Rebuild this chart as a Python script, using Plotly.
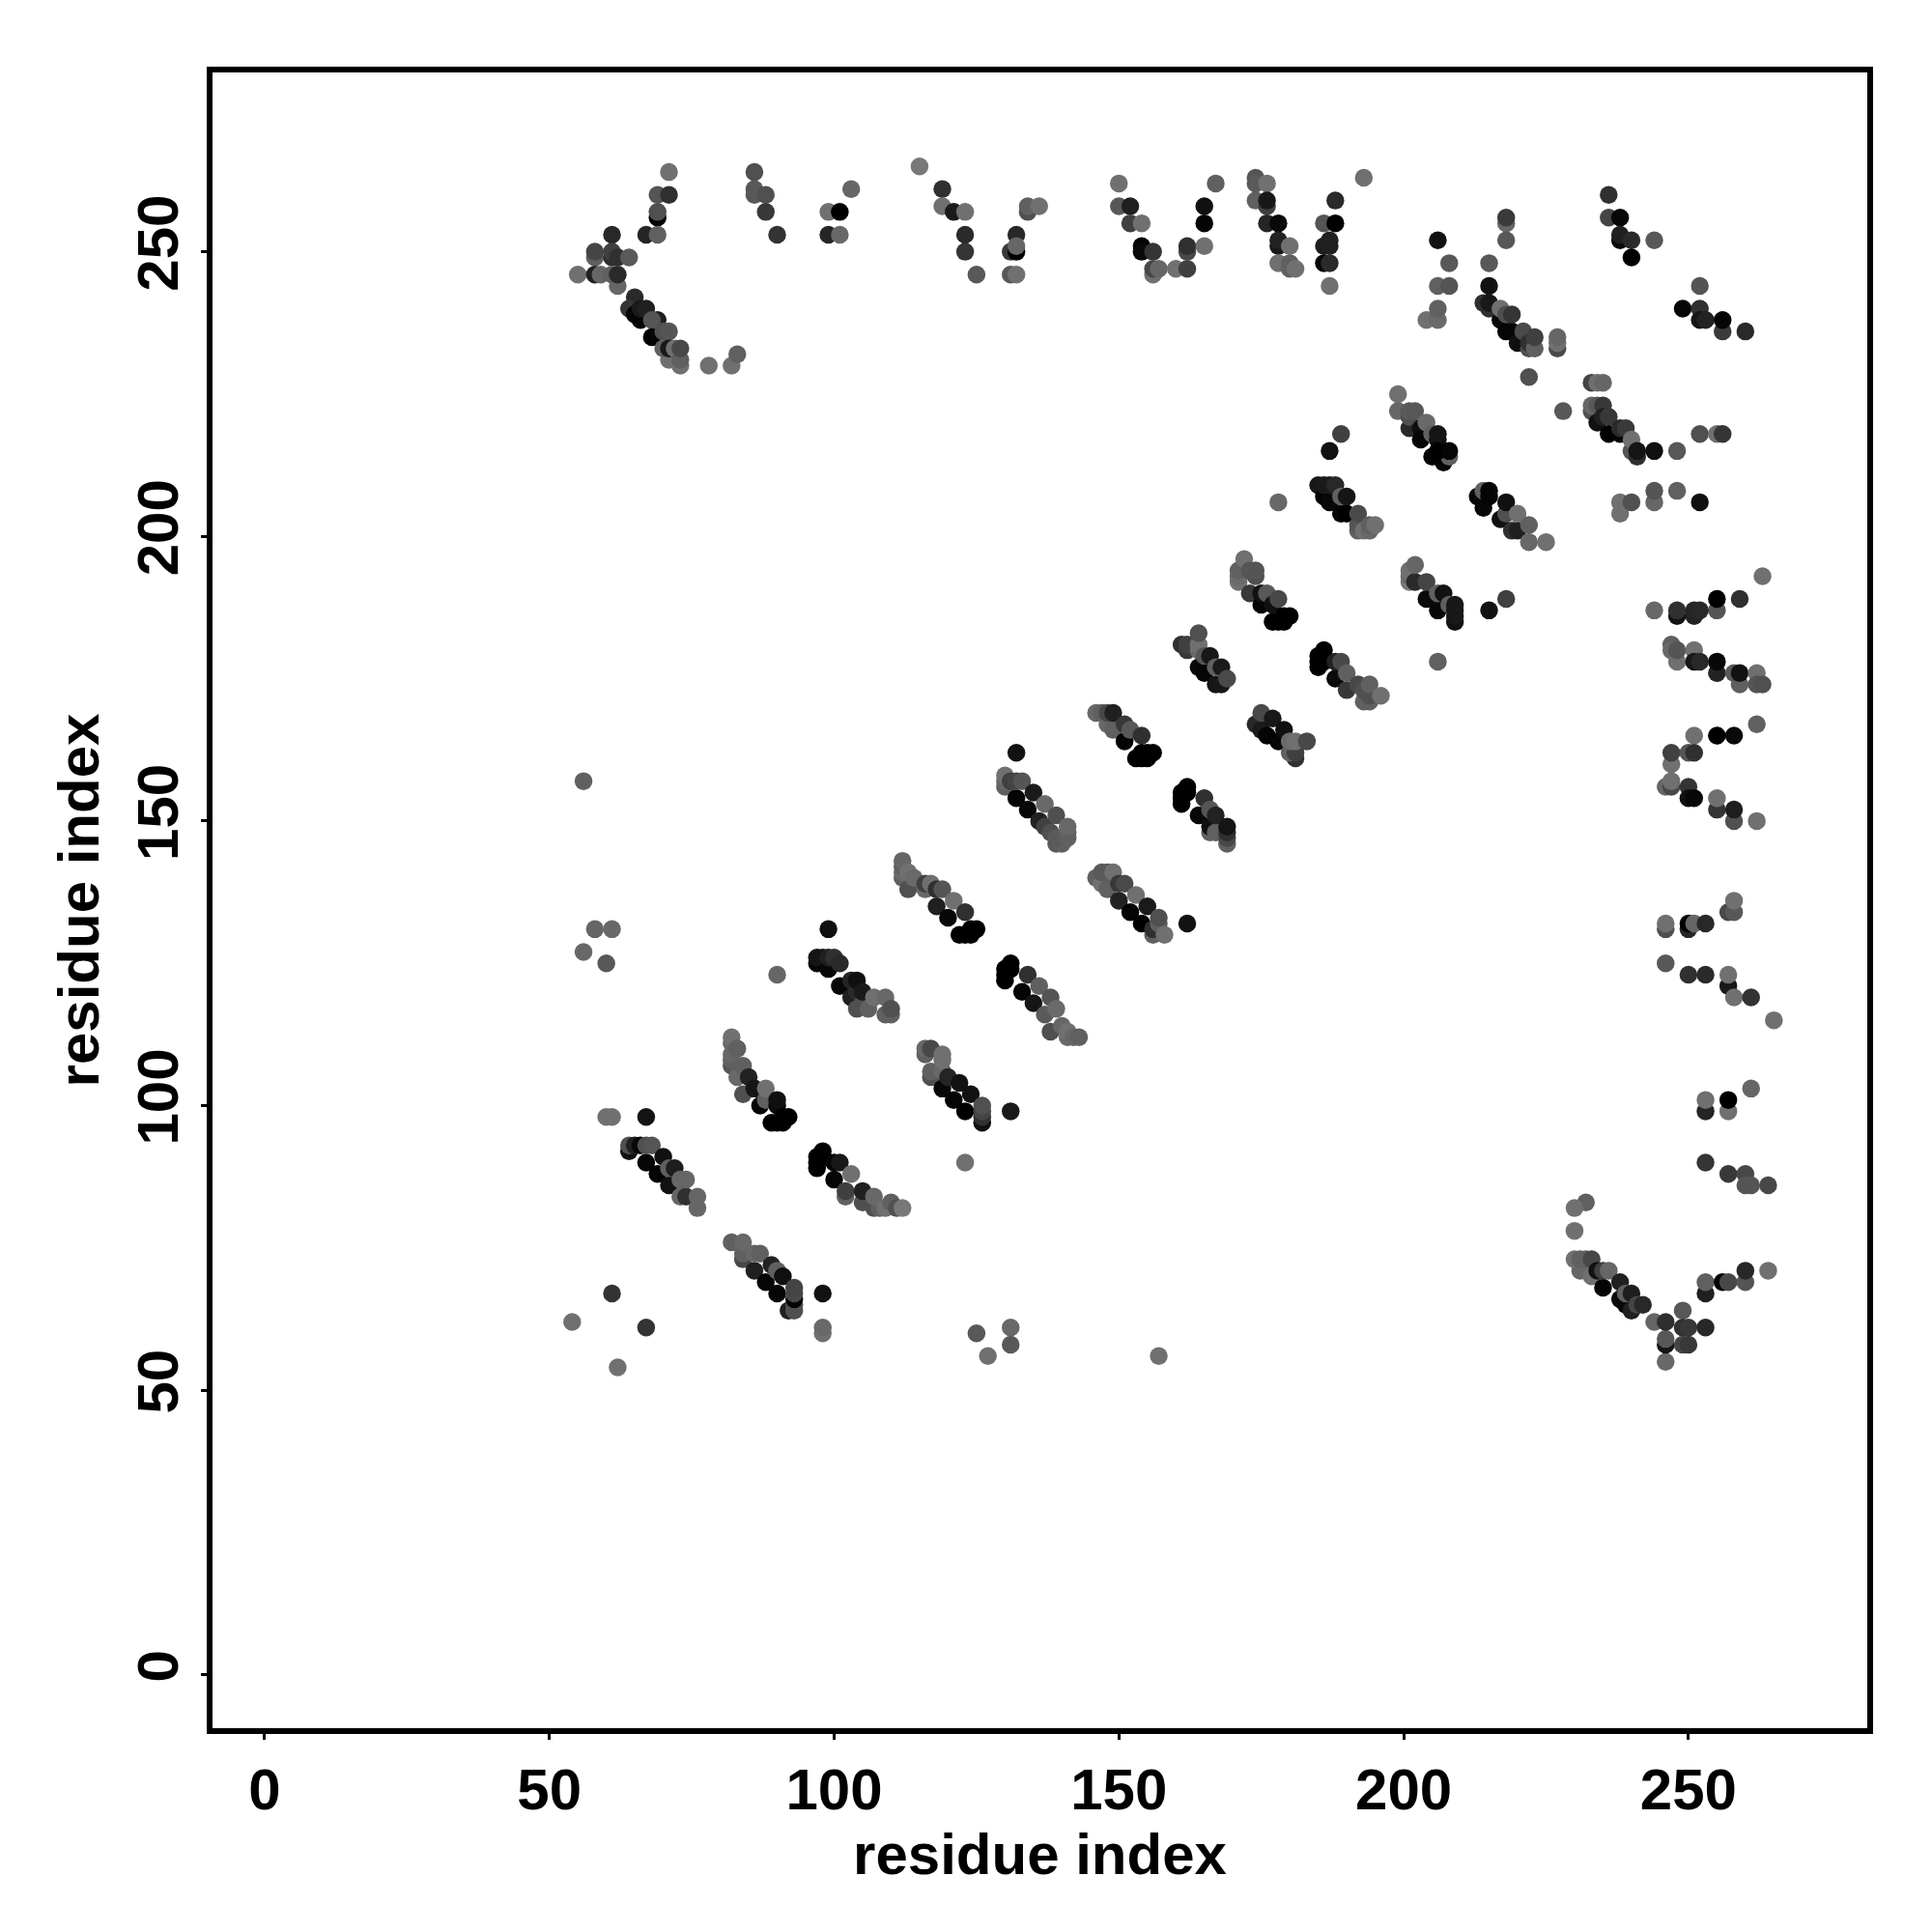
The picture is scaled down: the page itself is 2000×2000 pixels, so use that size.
import plotly.graph_objects as go

# each contact: (residue i, residue j, grey level)
top_left = [(71,264,0x70),(69,260,0x55),(71,260,0x30),(69,256,0x05),(69,257,0x50),(67,253,0x25),(69,253,0x60),
 (61,253,0x28),(58,249,0x60),(58,250,0x45),(61,249,0x30),(61,250,0x40),(62,249,0x30),(64,249,0x5a),
 (55,246,0x70),(58,246,0x20),(59,246,0x66),(62,244,0x66),(61,246,0x60),(62,246,0x2a)]
diag_230 = [(65,242,0x2a),(64,240,0x35),(65,239,0x05),(66,238,0x05),(66,240,0x1a),(67,240,0x20),(69,238,0x1e),(68,238,0x55),
 (68,235,0x00),(69,235,0x05),(70,236,0x50),(71,236,0x55),(73,230,0x70),(71,231,0x70),(70,233,0x60),(71,233,0x18),
 (72,233,0x70),(73,231,0x60),(73,233,0x48),(78,230,0x70),(82,230,0x70),(83,232,0x60)]
top_mid = [(86,264,0x50),(86,261,0x58),(86,260,0x58),(88,260,0x50),(88,257,0x38),(90,253,0x33),
 (99,257,0x70),(101,257,0x00),(99,253,0x25),(101,253,0x68),(103,261,0x66),(115,265,0x78),
 (119,261,0x30),(119,258,0x70),(121,257,0x1a),(123,257,0x70),(123,253,0x2a),(123,250,0x35),(125,246,0x58),
 (132,253,0x28),(131,250,0x3a),(132,250,0x00),(132,251,0x66),(131,246,0x58),(132,246,0x70),
 (134,257,0x50),(134,258,0x60),(136,258,0x70)]
top_v = [(150,262,0x70),(150,258,0x58),(152,258,0x20),(152,255,0x40),(154,255,0x70),(154,251,0x05),(154,250,0x0a),(156,250,0x35),
 (156,246,0x70),(156,247,0x48),(157,247,0x66),(160,247,0x70),(162,247,0x40),(162,250,0x48),(162,251,0x30),
 (165,258,0x10),(165,255,0x05),(165,251,0x70),(167,262,0x60),
 (174,263,0x55),(174,262,0x5a),(176,262,0x70),(174,259,0x60),(176,258,0x40),(176,259,0x18),
 (176,255,0x25),(178,255,0x0a),(178,251,0x18),(178,252,0x22),(180,251,0x70),(178,248,0x70),(180,247,0x60),(180,248,0x60),(181,247,0x70),
 (186,255,0x55),(188,255,0x00),(188,259,0x2a),(193,263,0x70),
 (186,251,0x1e),(187,252,0x20),(187,251,0x20),(186,248,0x05),(187,248,0x2a),(187,244,0x70)]
top_right = [(206,252,0x12),(208,248,0x58),(206,244,0x60),(208,244,0x55),(204,238,0x70),(206,238,0x6a),(206,240,0x60),
 (215,248,0x58),(215,244,0x12),(218,255,0x66),(218,256,0x3a),(218,252,0x58),
 (236,260,0x30),(236,256,0x45),(238,256,0x08),(238,252,0x0a),(238,253,0x20),(240,252,0x2a),(240,249,0x00),(244,252,0x58),
 (249,240,0x05),(252,244,0x55),(252,240,0x30),(252,238,0x15),(253,238,0x22),(256,236,0x3a),(256,238,0x05),(260,236,0x2a)]
diag_235 = [(214,241,0x30),(215,240,0x30),(215,241,0x18),(217,238,0x0a),(217,240,0x70),(218,236,0x05),(219,236,0x05),
 (218,239,0x50),(219,239,0x35),(220,234,0x10),(221,236,0x4a),(222,233,0x50),(222,234,0x30),(223,233,0x60),(223,235,0x40),
 (227,233,0x4a),(227,234,0x70),(227,235,0x66),(222,228,0x50),(228,222,0x58),
 (233,227,0x45),(234,227,0x70),(235,227,0x66)]
diag_220 = [(233,222,0x50),(233,223,0x68),(234,220,0x12),(234,223,0x5a),(235,223,0x38),(235,221,0x20),(236,221,0x38),
 (236,218,0x00),(238,218,0x05),(238,219,0x2a),(239,219,0x3a),(240,215,0x55),(240,217,0x70),(241,214,0x30),(241,215,0x15),
 (244,215,0x10),(248,215,0x58),(252,218,0x50),(255,218,0x70),(256,218,0x35),
 (244,206,0x66),(244,208,0x55),(248,208,0x60),(252,206,0x10),(238,204,0x70),(238,206,0x70),(240,206,0x50)]
band_a = [(199,225,0x70),(199,222,0x66),(201,219,0x28),(201,221,0x50),(201,222,0x5a),(202,222,0x58),(203,219,0x10),(203,217,0x05),
 (204,220,0x6a),(205,218,0x60),(206,217,0x10),(206,218,0x15),(205,214,0x05),(207,213,0x05),(208,214,0x60),(206,215,0x00),(208,215,0x05),
 (189,218,0x40),(187,215,0x12)]
band_b = [(185,209,0x18),(186,207,0x05),(186,209,0x1a),(187,206,0x08),(187,209,0x1a),(188,209,0x28),(189,204,0x05),(189,207,0x60),(190,204,0x00),(190,207,0x15),
 (192,201,0x60),(192,202,0x55),(192,204,0x4a),(193,201,0x70),(194,201,0x66),(194,202,0x60),(195,202,0x70)]
band_c = [(213,207,0x08),(214,205,0x08),(214,208,0x60),(215,207,0x05),(215,208,0x05),(217,203,0x10),(218,204,0x50),(218,206,0x10),
 (219,201,0x30),(220,201,0x20),(220,204,0x70),(222,199,0x68),(222,202,0x60),(225,199,0x70),(178,206,0x68)]
band_d = [(201,192,0x78),(201,193,0x6a),(201,194,0x70),(202,192,0x2a),(202,195,0x66),(204,189,0x0a),(204,192,0x45),
 (206,187,0x08),(206,190,0x60),(207,190,0x12),(208,188,0x60),(209,185,0x12),(209,186,0x18),(209,187,0x18),(209,188,0x18),
 (215,187,0x12),(218,189,0x40),(206,178,0x60)]
band_v = [(171,192,0x70),(171,193,0x6a),(171,194,0x60),(172,196,0x70),(173,190,0x38),(174,193,0x50),(173,194,0x55),(174,194,0x55),
 (175,188,0x05),(175,190,0x12),(176,190,0x58),(177,185,0x00),(178,185,0x00),(179,185,0x00),(177,188,0x10),(178,189,0x48),(179,186,0x00),(180,186,0x00)]
band_w = [(161,181,0x30),(162,180,0x3a),(162,181,0x40),(164,177,0x08),(164,180,0x6a),(164,181,0x70),(164,183,0x50),(165,176,0x05),(165,179,0x55),(166,179,0x18),
 (167,174,0x15),(168,174,0x18),(167,177,0x60),(168,177,0x1a),(169,175,0x4a)]
band_u = [(185,177,0x00),(185,178,0x00),(185,179,0x00),(186,178,0x00),(186,179,0x00),(186,180,0x00),(188,175,0x0a),(188,178,0x20),(189,178,0x48),
 (190,173,0x38),(190,176,0x60),(193,171,0x60),(194,171,0x60),(192,174,0x48),(193,173,0x50),(194,172,0x50),(194,174,0x60),(196,172,0x70)]
band_f = [(174,167,0x28),(175,166,0x1a),(175,169,0x48),(176,165,0x05),(177,168,0x18),(178,164,0x05),(179,166,0x10),
 (181,161,0x30),(180,162,0x60),(181,162,0x40),(180,164,0x6a),(181,164,0x70),(183,164,0x48)]
band_g = [(146,169,0x68),(147,169,0x60),(148,167,0x68),(148,169,0x48),(149,166,0x60),(149,169,0x20),(151,164,0x05),(151,167,0x38),(152,166,0x58),(154,165,0x30),
 (153,161,0x00),(154,161,0x00),(155,161,0x00),(154,162,0x00),(155,162,0x00),(156,162,0x00)]
band_h = [(132,162,0x12),(130,156,0x60),(130,157,0x66),(130,158,0x70),(131,157,0x40),(132,154,0x05),(132,157,0x45),(133,157,0x55),(134,152,0x08),(135,155,0x1a),
 (136,150,0x22),(137,149,0x40),(137,153,0x6a),(138,148,0x50),(139,146,0x5a),(140,146,0x60),(139,147,0x5a),(139,151,0x50),(141,147,0x60),(141,148,0x60),(141,149,0x68)]
band_i = [(161,153,0x00),(161,154,0x00),(161,155,0x00),(162,155,0x00),(162,156,0x00),(164,151,0x08),(165,154,0x30),(166,148,0x60),(166,149,0x10),(166,152,0x55),
 (167,148,0x60),(167,151,0x22),(169,146,0x60),(169,147,0x48),(169,148,0x30),(169,149,0x15)]
band_j = [(146,140,0x60),(147,139,0x70),(147,141,0x5a),(148,138,0x60),(148,141,0x5a),(149,141,0x70),(150,136,0x22),(150,139,0x38),(151,139,0x4a),(152,134,0x05),
 (153,137,0x70),(154,132,0x00),(155,135,0x1a),(156,130,0x60),(156,131,0x30),(157,132,0x60),(157,133,0x50),(158,130,0x70),(162,132,0x12)]
band_k = [(112,140,0x60),(112,141,0x6a),(112,142,0x60),(112,143,0x66),(113,138,0x50),(113,141,0x70),(114,140,0x6a),(116,138,0x68),(116,139,0x40),(117,139,0x70),
 (118,135,0x20),(118,138,0x30),(119,138,0x55),(120,133,0x08),(121,136,0x70),(122,130,0x00),(123,130,0x00),(123,134,0x30),(124,130,0x00),(124,131,0x00),(125,131,0x00)]
band_l = [(130,122,0x00),(130,123,0x00),(130,124,0x00),(131,124,0x00),(131,125,0x00),(133,120,0x05),(134,123,0x30),(135,118,0x15),(136,121,0x60),(137,116,0x5a),
 (138,113,0x50),(138,119,0x55),(139,117,0x6a),(140,114,0x66),(141,112,0x68),(141,113,0x70),(142,112,0x66),(143,112,0x60)]
band_t = [(97,125,0x05),(97,126,0x15),(98,126,0x15),(99,124,0x08),(99,126,0x20),(100,126,0x30),(101,121,0x08),(101,125,0x2a),(103,119,0x20),(103,122,0x25),(104,117,0x50),(104,120,0x2a),(104,122,0x10),
 (105,118,0x50),(105,120,0x1a),(106,117,0x60),(107,119,0x70),(109,116,0x60),(109,119,0x68),(110,116,0x60),(110,117,0x50),(99,131,0x10),(90,123,0x66)]
band_o = [(82,107,0x55),(82,108,0x60),(82,109,0x66),(82,111,0x66),(82,112,0x70),(83,105,0x68),(83,110,0x60),(84,102,0x50),(84,107,0x60),(85,105,0x22),(86,103,0x15),
 (87,100,0x05),(88,101,0x60),(88,103,0x70),(89,97,0x00),(90,97,0x00),(90,100,0x0a),(90,101,0x10),(91,97,0x00),(91,98,0x00),(92,98,0x00)]
band_p = [(64,92,0x12),(64,93,0x50),(65,93,0x20),(66,93,0x08),(67,90,0x05),(67,93,0x50),(68,93,0x55),(69,88,0x05),(70,91,0x10),(71,86,0x12),(71,89,0x60),(72,89,0x1e),
 (73,84,0x66),(74,84,0x30),(73,87,0x66),(74,87,0x66),(76,82,0x66),(76,84,0x66),(67,98,0x14),(60,98,0x70),(61,98,0x70)]
band_q = [(116,109,0x60),(116,110,0x68),(117,105,0x50),(117,106,0x60),(117,110,0x48),(119,103,0x08),(119,106,0x68),(119,108,0x70),(119,109,0x70),(120,105,0x25),
 (121,101,0x05),(122,104,0x12),(123,99,0x00),(124,102,0x12),(126,97,0x10),(126,98,0x30),(126,99,0x45),(126,100,0x50),(131,99,0x1a),(123,90,0x70)]
band_r = [(97,89,0x00),(97,90,0x00),(97,91,0x00),(98,91,0x00),(98,92,0x00),(100,87,0x05),(100,90,0x05),(101,90,0x18),(102,84,0x60),(102,85,0x40),(103,88,0x70),
 (105,83,0x50),(105,85,0x20),(107,82,0x50),(108,82,0x60),(107,84,0x68),(109,82,0x70),(110,83,0x60),(111,82,0x50),(112,82,0x78)]
band_s = [(82,76,0x60),(84,73,0x48),(84,74,0x60),(84,76,0x68),(86,71,0x20),(86,74,0x68),(87,74,0x60),(88,69,0x05),(89,72,0x22),(90,67,0x05),(90,71,0x60),(91,70,0x10),
 (92,64,0x20),(93,64,0x50),(93,65,0x50),(93,66,0x05),(93,67,0x48),(93,68,0x45),(98,67,0x12),(98,60,0x70),(98,61,0x68)]
scattered = [(61,67,0x33),(67,61,0x33),(62,54,0x70),(54,62,0x70),(125,60,0x58),(131,61,0x68),(131,58,0x58),(127,56,0x70),(157,56,0x70),
 (56,157,0x60),(58,131,0x66),(61,131,0x68),(56,127,0x68),(60,125,0x58)]
right_col = [(263,193,0x70),(255,187,0x55),(255,189,0x00),(259,189,0x30),(244,187,0x68),(248,186,0x12),(248,187,0x30),(251,186,0x22),(251,187,0x25),(252,187,0x28),
 (247,181,0x60),(247,180,0x68),(248,178,0x70),(248,180,0x55),(251,180,0x70),(251,178,0x18),(252,178,0x28),(255,176,0x22),(255,178,0x08),(259,174,0x60),(258,176,0x58),(259,176,0x12),
 (262,176,0x70),(262,174,0x55),(263,174,0x50),
 (262,167,0x60),(255,165,0x00),(258,165,0x0a),(251,165,0x70),(247,160,0x70),(247,162,0x40),(250,162,0x55),(251,162,0x30),
 (246,156,0x66),(247,156,0x48),(247,157,0x70),(250,156,0x35),(250,154,0x10),(251,154,0x08),(255,152,0x35),(255,154,0x70),(258,150,0x50),(258,152,0x1e),(262,150,0x70),
 (257,134,0x48),(258,134,0x58),(258,136,0x70),(246,131,0x50),(246,132,0x70),(250,131,0x28),(250,132,0x00),(251,132,0x66),(253,132,0x28),
 (246,125,0x58),(250,123,0x30),(253,123,0x2a),(257,121,0x18),(257,123,0x70),(258,119,0x70),(261,119,0x33),(265,115,0x70)]
bottom_right = [(261,103,0x66),(253,99,0x25),(253,101,0x70),(257,99,0x70),(257,101,0x00),(253,90,0x35),(257,88,0x38),(260,88,0x48),(260,86,0x55),(261,86,0x55),(264,86,0x48),
 (232,83,0x60),(230,82,0x70),(230,78,0x70),(231,71,0x66),(233,70,0x70),(230,73,0x70),(231,73,0x60),(232,73,0x60),(233,73,0x48),(234,71,0x12),(235,68,0x05),(235,71,0x40),(236,71,0x66),
 (238,66,0x0a),(238,69,0x20),(239,65,0x08),(239,67,0x60),(240,64,0x20),(240,67,0x1e),(241,65,0x45),(242,65,0x28),
 (244,62,0x66),(246,55,0x68),(246,58,0x15),(246,59,0x58),(246,62,0x2e),(249,58,0x45),(250,58,0x38),(249,64,0x58),(249,61,0x30),(250,61,0x38),(253,61,0x28),
 (253,67,0x20),(253,69,0x60),(256,69,0x05),(257,69,0x48),(260,69,0x55),(260,71,0x28),(264,71,0x70)]

groups = [top_left, diag_230, top_mid, top_v, top_right, diag_235, diag_220, band_a, band_b, band_c, band_d,
          band_v, band_w, band_u, band_f, band_g, band_h, band_i, band_j, band_k, band_l, band_t, band_o,
          band_p, band_q, band_r, band_s, scattered, right_col, bottom_right]
res_i = [c[0] for g in groups for c in g]
res_j = [c[1] for g in groups for c in g]
grey = [c[2] for g in groups for c in g]

tick_vals = [0, 50, 100, 150, 200, 250]
axis_label = "residue index"

fig = go.Figure(go.Scatter(
    x=res_i, y=res_j, mode="markers", cliponaxis=False,
    marker=dict(size=18.5, color=grey, cmin=0, cmax=255, line=dict(width=0),
                colorscale=[[0, "#000000"], [1, "#ffffff"]], showscale=False),
))
axis = dict(
    tickmode="array", tickvals=tick_vals, ticktext=[str(v) for v in tick_vals],
    showgrid=False, zeroline=False, showline=True, mirror=True, linewidth=6, linecolor="#000",
    ticks="outside", ticklen=6, tickwidth=3, tickcolor="#000",
    tickfont=dict(family="Liberation Sans", size=60, color="#000", weight=700),
)
title_font = dict(family="Liberation Sans", size=60, color="#000", weight=700)
fig.update_layout(
    width=2000, height=2000, autosize=False, showlegend=False,
    paper_bgcolor="white", plot_bgcolor="white",
    margin=dict(l=211.7, r=75, t=66.5, b=219, pad=0),
    xaxis=dict(axis, range=[-9.14, 281.4], title=dict(text=axis_label, font=title_font, standoff=10)),
    yaxis=dict(axis, range=[-9.37, 281.5], tickangle=-90, title=dict(text=axis_label, font=title_font, standoff=10)),
)
fig.write_html("out.html")
